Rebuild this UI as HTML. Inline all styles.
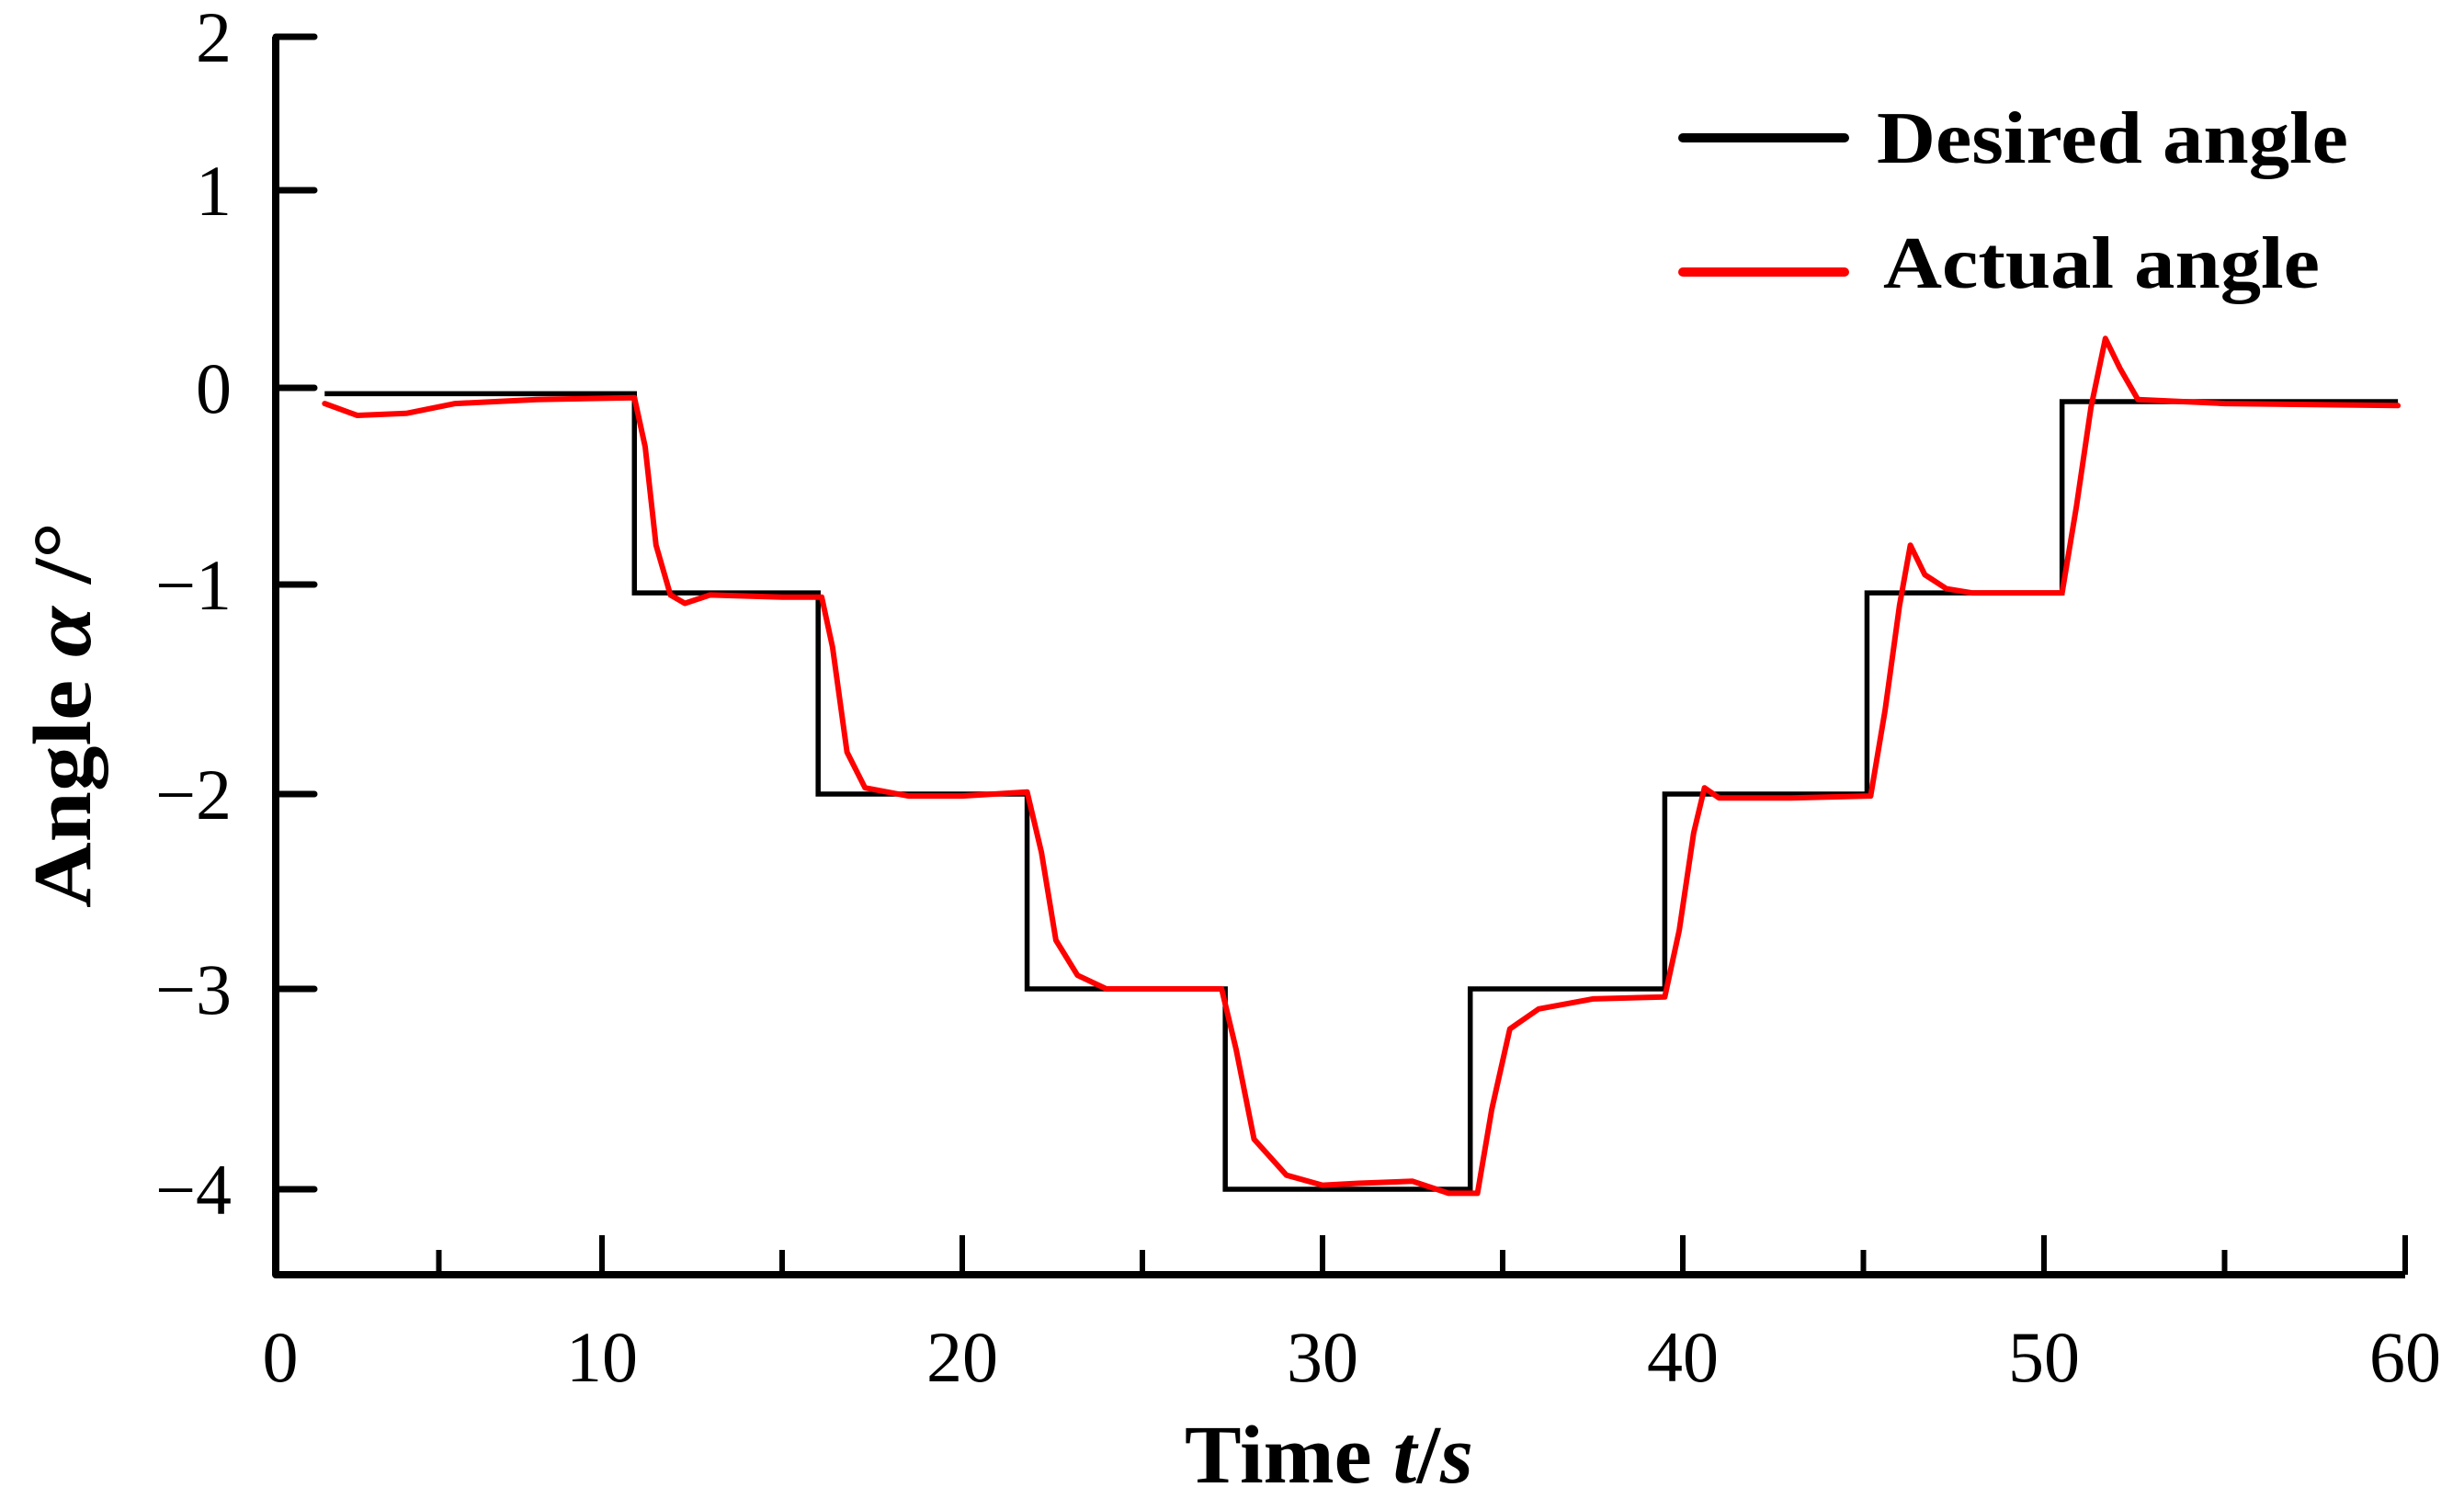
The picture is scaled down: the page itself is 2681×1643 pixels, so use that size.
<!DOCTYPE html>
<html><head><meta charset="utf-8"><style>
html,body{margin:0;padding:0;background:#fff;}
svg{display:block;}
text{font-family:"Liberation Serif",serif;fill:#000;}
</style></head><body>
<svg id="chart" width="2681" height="1643" viewBox="0 0 2681 1643" xmlns="http://www.w3.org/2000/svg">
<g id="axes"></g>
<g id="series"></g>
<g>
  <line x1="1831" y1="150" x2="2007" y2="150" stroke="#000" stroke-width="10" stroke-linecap="round"/>
  <text x="2042" y="177" font-size="80" font-weight="bold" textLength="513" lengthAdjust="spacingAndGlyphs">Desired angle</text>
  <line x1="1831" y1="296" x2="2007" y2="296" stroke="#ff0000" stroke-width="10" stroke-linecap="round"/>
  <text x="2049" y="313" font-size="80" font-weight="bold" textLength="475" lengthAdjust="spacingAndGlyphs">Actual angle</text>
</g>
<text x="1446" y="1613" font-size="90" font-weight="bold" text-anchor="middle" textLength="314" lengthAdjust="spacingAndGlyphs">Time <tspan font-style="italic">t</tspan>/<tspan font-style="italic">s</tspan></text>
<text transform="translate(98,778) rotate(-90)" font-size="90" font-weight="bold" text-anchor="middle" textLength="420" lengthAdjust="spacingAndGlyphs">Angle <tspan font-style="italic">α</tspan> /°</text>
</svg>
<script>
const xTickValues = [0,10,20,30,40,50,60];
const xTickLabels = ["0","10","20","30","40","50","60"];
const xMinorValues = [5,15,25,35,45,55];
const yTickValues = [2,1,0,-1,-2,-3,-4];
const yTickLabels = ["2","1","0","\u22121","\u22122","\u22123","\u22124"];
const desiredTimes = [1.5,10.9,16.0,21.8,27.3,34.1,39.5,45.1,50.5,59.8];
const desiredLevels = [-0.03,-1.04,-2.0,-3.0,-4.0,-3.0,-2.0,-1.04,-0.07];
const actualTimes = [1.5,2.5,4,5.5,8,10.9,11.2,11.5,11.9,12.3,13,15,16.1,16.4,16.8,17.3,18.5,20,21.8,22.2,22.6,23.2,24,27.2,27.6,28.1,29,30,31,32.5,33.5,34.3,34.7,35.2,36,37.5,39.5,39.9,40.3,40.6,41,43,45.2,45.6,46,46.3,46.7,47.3,48,50.5,50.9,51.3,51.7,52.1,52.6,55,59.8];
const actualValues = [-0.08,-0.14,-0.13,-0.08,-0.06,-0.05,-0.3,-0.8,-1.05,-1.09,-1.05,-1.06,-1.06,-1.3,-1.8,-1.97,-2.01,-2.01,-1.99,-2.3,-2.75,-2.93,-3.0,-3.0,-3.3,-3.75,-3.93,-3.98,-3.97,-3.96,-4.02,-4.02,-3.6,-3.2,-3.1,-3.05,-3.04,-2.7,-2.2,-1.97,-2.02,-2.02,-2.01,-1.6,-1.1,-0.8,-0.95,-1.02,-1.04,-1.04,-0.6,-0.1,0.25,0.1,-0.06,-0.08,-0.09];

const xAnchV = [0,10,20,30,40,50,60], xAnchP = [300,655,1047,1439,1831,2224,2617];
const yAnchV = [-4,-3,-2,-1,0,1,2], yAnchP = [1294,1076,864,636,422,207,40];
function interp(v, av, ap){
  for(let i=0;i<av.length-1;i++){
    if(v<=av[i+1]||i===av.length-2){
      return ap[i]+(v-av[i])*(ap[i+1]-ap[i])/(av[i+1]-av[i]);
    }
  }
}
function xs(v){return interp(v,xAnchV,xAnchP);}
function ys(v){return interp(v,yAnchV,yAnchP);}
const NS="http://www.w3.org/2000/svg";
const axes=document.getElementById('axes'), series=document.getElementById('series');
function mk(tag,attrs,parent){const e=document.createElementNS(NS,tag);for(const k in attrs)e.setAttribute(k,attrs[k]);parent.appendChild(e);return e;}
const X0=300, Y0=1387;
let e;
e=mk('path',{d:`M${X0},${ys(2)} L${X0},${Y0} L${xs(60)},${Y0}`,fill:'none',stroke:'#000','stroke-width':8,'stroke-linejoin':'round'},axes);


yTickValues.forEach((v,i)=>{
  const y=ys(v);
  const t=mk('line',{x1:X0,y1:y,x2:X0+42,y2:y,stroke:'#000','stroke-width':7,'stroke-linecap':'round'},axes);
  
  
  const l=mk('text',{x:252,y:y+27,'font-size':78,'text-anchor':'end'},axes);
  l.textContent=yTickLabels[i];
  
  
});
xTickValues.forEach((v,i)=>{
  const x=xs(v);
  if(v>0){
    const t=mk('line',{x1:x,y1:Y0,x2:x,y2:Y0-43,stroke:'#000','stroke-width':6},axes);
    
    
  }
  const l=mk('text',{x:x+(v===0?5:0),y:1503,'font-size':78,'text-anchor':'middle'},axes);
  l.textContent=xTickLabels[i];
  
  
});
xMinorValues.forEach(v=>{
  const x=xs(v);
  const t=mk('line',{x1:x,y1:Y0,x2:x,y2:Y0-27,stroke:'#000','stroke-width':6},axes);
  
  
});
let d=`M${xs(desiredTimes[0])},${ys(desiredLevels[0])}`;
for(let i=0;i<desiredLevels.length;i++){
  d+=` L${xs(desiredTimes[i+1])},${ys(desiredLevels[i])}`;
  if(i+1<desiredLevels.length) d+=` L${xs(desiredTimes[i+1])},${ys(desiredLevels[i+1])}`;
}
e=mk('path',{d:d,fill:'none',stroke:'#000','stroke-width':5.5},series);


let d2=actualTimes.map((t,i)=>(i?'L':'M')+xs(t).toFixed(1)+','+ys(actualValues[i]).toFixed(1)).join(' ');
e=mk('path',{d:d2,fill:'none',stroke:'#ff0000','stroke-width':6,'stroke-linejoin':'round','stroke-linecap':'round'},series);


</script>
</body></html>
